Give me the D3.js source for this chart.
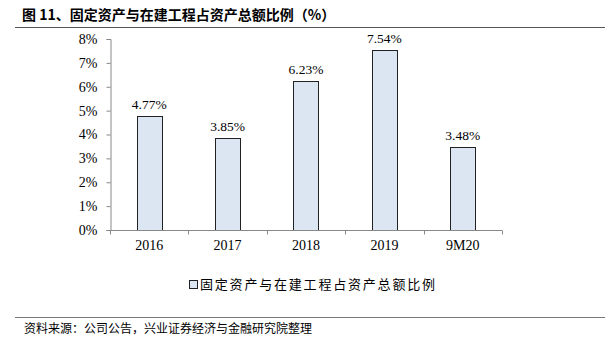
<!DOCTYPE html>
<html>
<head>
<meta charset="utf-8">
<script src="https://cdn.jsdelivr.net/npm/d3@7"></script>
<style>
  body { margin: 0; background: #fff; }
  svg { display: block; }
</style>
</head>
<body>
<div id="chart"></div>
<script>
// chart data
const categories = ['2016', '2017', '2018', '2019', '9M20'];
const ratios = [4.77, 3.85, 6.23, 7.54, 3.48];
const yTicks = [0, 1, 2, 3, 4, 5, 6, 7, 8];
const titleText = '图 11、固定资产与在建工程占资产总额比例（%）';
const legendText = '固定资产与在建工程占资产总额比例';
const sourceText = '资料来源：公司公告，兴业证券经济与金融研究院整理';

const width = 612, height = 351;
const margin = {top: 39, right: 110, bottom: 121, left: 110};
const serif = '"Liberation Serif", "Times New Roman", serif';
const cjk = '"Noto Sans CJK SC", sans-serif';

const svg = d3.select('#chart').append('svg')
    .attr('width', width)
    .attr('height', height);

// title + rules
svg.append('text')
    .attr('x', 22).attr('y', 20)
    .attr('font-family', cjk)
    .attr('font-size', 14)
    .attr('font-weight', 'bold')
    .attr('fill', '#000')
    .text(titleText);

svg.append('line')
    .attr('x1', 15).attr('x2', 605)
    .attr('y1', 27.5).attr('y2', 27.5)
    .attr('stroke', '#555').attr('stroke-width', 1);

svg.append('line')
    .attr('x1', 15).attr('x2', 605)
    .attr('y1', 317.5).attr('y2', 317.5)
    .attr('stroke', '#777').attr('stroke-width', 1);

svg.append('text')
    .attr('x', 24).attr('y', 333)
    .attr('font-family', cjk)
    .attr('font-size', 12)
    .attr('fill', '#000')
    .text(sourceText);

// scales
const x = d3.scaleBand()
    .domain(categories)
    .range([margin.left, width - margin.right])
    .paddingInner(0.68)
    .paddingOuter(0.34);

const y = d3.scaleLinear()
    .domain([0, 8])
    .range([height - margin.bottom, margin.top]);

const chart = svg.append('g');

// bars
chart.selectAll('rect.bar')
    .data(ratios)
  .join('rect')
    .attr('class', 'bar')
    .attr('x', (d, i) => Math.round(x(categories[i])) + 0.5)
    .attr('y', d => Math.round(y(d)) + 0.5)
    .attr('width', Math.round(x.bandwidth()))
    .attr('height', d => Math.round(y(0)) - Math.round(y(d)))
    .attr('fill', '#dce6f2')
    .attr('stroke', '#222')
    .attr('stroke-width', 1);

// value labels
chart.selectAll('text.val')
    .data(ratios)
  .join('text')
    .attr('class', 'val')
    .attr('x', (d, i) => x(categories[i]) + x.bandwidth() / 2)
    .attr('y', d => y(d) - 7)
    .attr('text-anchor', 'middle')
    .attr('font-family', serif)
    .attr('font-size', 13.5)
    .attr('fill', '#000')
    .text(d => d.toFixed(2) + '%');

// y axis
const yAxis = svg.append('g')
    .attr('transform', `translate(${margin.left + 0.5},0)`)
    .call(d3.axisLeft(y).tickValues(yTicks).tickSize(4).tickFormat(d => d + '%'));
yAxis.select('.domain').attr('stroke', '#888');
yAxis.selectAll('.tick line').attr('stroke', '#888');
yAxis.selectAll('.tick text')
    .attr('x', -13)
    .attr('font-family', serif)
    .attr('font-size', 14)
    .attr('fill', '#000');

// x axis, ticks between categories
const step = x.step();
const xLeft = margin.left, xRight = width - margin.right;
const xAxis = svg.append('g')
    .attr('transform', `translate(0,${Math.round(y(0)) + 0.5})`);
xAxis.append('line')
    .attr('x1', xLeft).attr('x2', xRight)
    .attr('stroke', '#888');
xAxis.selectAll('line.tk')
    .data(d3.range(categories.length + 1))
  .join('line')
    .attr('class', 'tk')
    .attr('x1', i => Math.round(xLeft + i * step) + 0.5)
    .attr('x2', i => Math.round(xLeft + i * step) + 0.5)
    .attr('y1', 0).attr('y2', 4)
    .attr('stroke', '#888');
xAxis.selectAll('text')
    .data(categories)
  .join('text')
    .attr('x', d => x(d) + x.bandwidth() / 2)
    .attr('y', 19)
    .attr('text-anchor', 'middle')
    .attr('font-family', serif)
    .attr('font-size', 14)
    .attr('fill', '#000')
    .text(d => d);

// legend
const legend = svg.append('g').attr('transform', 'translate(189,280)');
legend.append('rect')
    .attr('x', 0.5).attr('y', 0.5)
    .attr('width', 8).attr('height', 8)
    .attr('fill', '#dce6f2')
    .attr('stroke', '#222');
legend.append('text')
    .attr('x', 11).attr('y', 9)
    .attr('font-family', cjk)
    .attr('font-size', 13)
    .attr('letter-spacing', 1.8)
    .attr('fill', '#000')
    .text(legendText);
</script>
</body>
</html>
